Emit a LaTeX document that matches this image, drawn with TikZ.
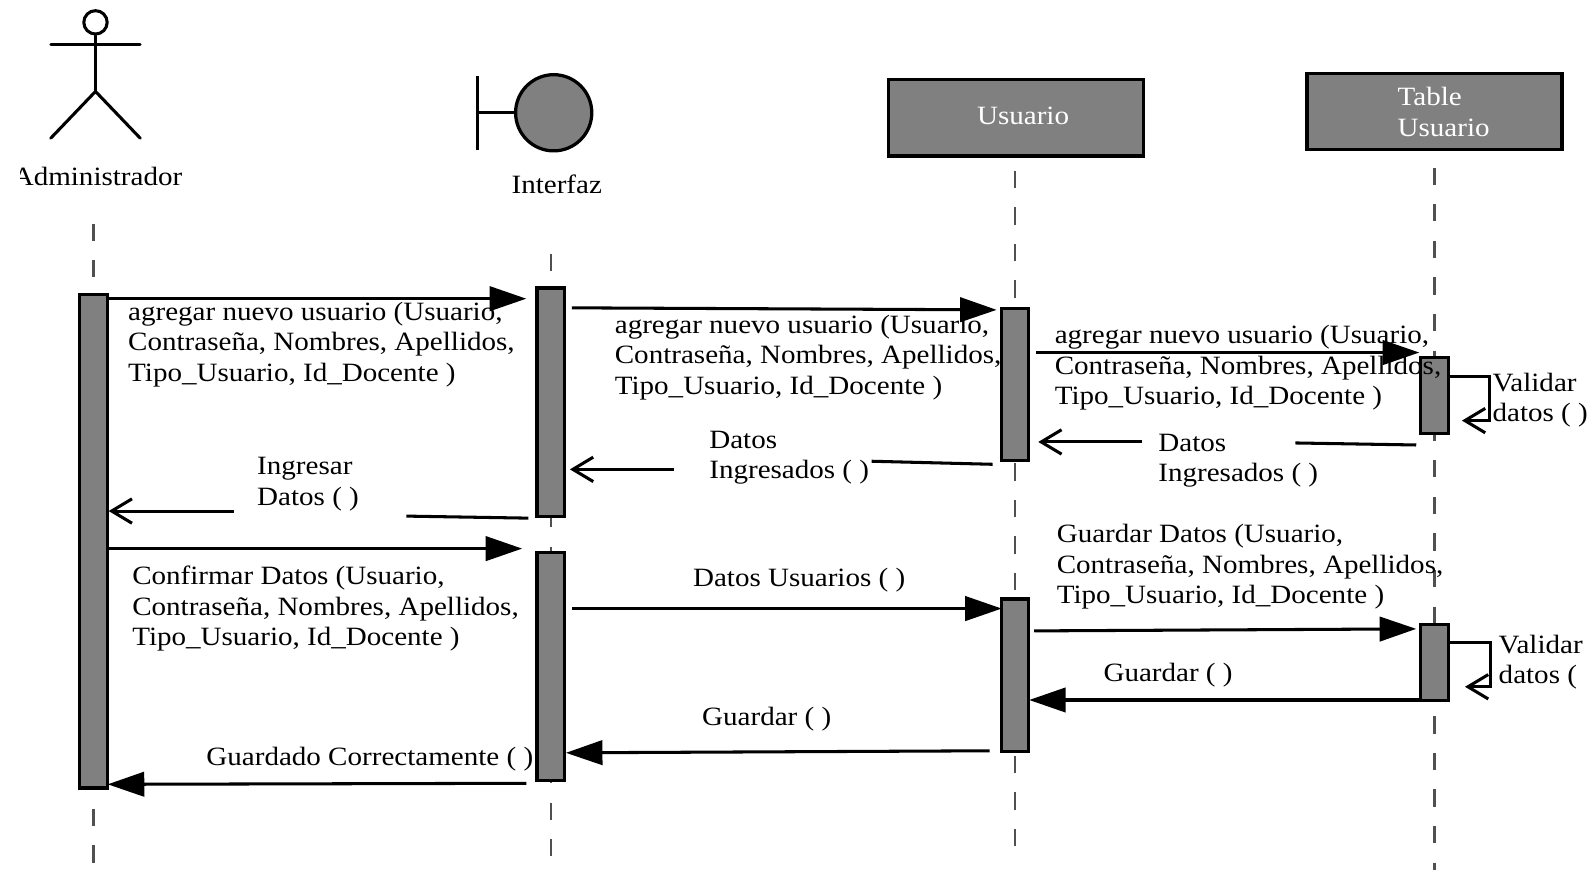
\documentclass[tikz,border=0pt]{standalone}
\usepackage{fontspec}
\setmainfont[FakeStretch=1.1]{Liberation Serif}
\usetikzlibrary{arrows.meta}
\definecolor{boxgray}{HTML}{808080}
\definecolor{lifegray}{HTML}{505050}
\tikzset{
  x=1pt,y=-1pt,
  bar/.style={draw=black,fill=boxgray,line width=3.2pt,minimum width=27pt,inner sep=0pt,anchor=north},
  head/.style={draw=black,fill=boxgray,line width=3.2pt,minimum width=251pt,minimum height=75pt,inner sep=0pt},
  headtxt/.style={inner sep=0pt,text=white,align=left,font=\fontsize{26}{30}\selectfont},
  lbl/.style={inner sep=0pt,anchor=north west,align=left,font=\fontsize{26}{30}\selectfont},
  life/.style={draw=lifegray,line width=2.2pt,dash pattern=on 17pt off 19pt},
  msg/.style={line width=3pt,-{Triangle[length=36pt,width=24pt]}},
  ret/.style={line width=3pt,-{Straight Barb[length=20pt,width=24pt,line width=3pt]}},
  plain/.style={line width=3pt},
  stick/.style={line width=3pt,line cap=round},
}
\begin{document}
\begin{tikzpicture}
\useasboundingbox (0,0) rectangle (1568,867);
% lifelines
\coordinate (l1a) at (92,220); \coordinate (l1b) at (92,867);
\coordinate (l2a) at (542,250); \coordinate (l2b) at (542,846);
\coordinate (l3a) at (999,168); \coordinate (l3b) at (999,846);
\coordinate (l4a) at (1412,165); \coordinate (l4b) at (1412,856);
\draw[life] (l1a) -- (l1b);
\draw[life] (l2a) -- (l2b);
\draw[life] (l3a) -- (l3b);
\draw[life] (l4a) -- (l4b);
% actor
\node[draw=black,line width=3pt,circle,minimum size=23pt,inner sep=0pt] (ahead) at (94,22) {};
\coordinate (ahip) at (94,90);
\coordinate (aarmL) at (50,44); \coordinate (aarmR) at (138,44);
\coordinate (alegL) at (50,136); \coordinate (alegR) at (138,136);
\draw[stick] (ahead.south) -- (ahip);
\draw[stick] (aarmL) -- (aarmR);
\draw[stick] (alegL) -- (ahip) -- (alegR);
\node[inner sep=0pt,font=\fontsize{26}{30}\selectfont] (actor) at (96,174) {Administrador};
\fill[white] (0,150) rectangle (20,200);
% boundary
\node[draw=black,fill=boxgray,line width=3.2pt,circle,minimum size=75pt,inner sep=0pt] (bcircle) at (545,111) {};
\coordinate (bbarT) at (470,75); \coordinate (bbarB) at (470,148); \coordinate (bmid) at (470,111);
\draw[line width=3pt] (bbarT) -- (bbarB);
\draw[line width=3pt] (bmid) -- (bcircle.west);
\node[inner sep=0pt,font=\fontsize{26}{30}\selectfont] (iface) at (548,181) {Interfaz};
% heads
\node[head] (usuario) at (1000,116) {};
\node[head] (tabla) at (1412,110) {};
\node[headtxt] (usuariot) at (1007,114) {Usuario};
\node[headtxt] (tablat) at (1421,110) {Table\\Usuario};
% bars
\node[bar,minimum height=486pt] (b1) at (92,288) {};
\node[bar,minimum height=225pt] (b2) at (542,282) {};
\node[bar,minimum height=225pt] (b2b) at (542,542) {};
\node[bar,minimum height=150pt] (b3) at (999,302) {};
\node[bar,minimum height=150pt] (b3b) at (999,588) {};
\node[bar,minimum height=75pt] (b4) at (1412,350) {};
\node[bar,minimum height=75pt] (b4b) at (1412,613) {};
% message endpoints
\coordinate (m1a) at (106,294); \coordinate (m1b) at (518,294);
\coordinate (m2a) at (563,303); \coordinate (m2b) at (981,305);
\coordinate (m3a) at (1020,347); \coordinate (m3b) at (1397,347);
\coordinate (m4a) at (1394,438); \coordinate (m4b) at (1275,436);
\coordinate (m4c) at (1124,435); \coordinate (m4d) at (1022,435);
\coordinate (m5a) at (977,457); \coordinate (m5b) at (858,454);
\coordinate (m5c) at (663,462); \coordinate (m5d) at (561,462);
\coordinate (m6a) at (520,510); \coordinate (m6b) at (400,508);
\coordinate (m6c) at (230,503); \coordinate (m6d) at (107,503);
\coordinate (m7a) at (106,540); \coordinate (m7b) at (514,540);
\coordinate (m8a) at (563,599); \coordinate (m8b) at (986,599);
\coordinate (m9a) at (1018,621); \coordinate (m9b) at (1394,619);
\coordinate (m10a) at (1398,689); \coordinate (m10b) at (1013,689);
\coordinate (m11a) at (974,739); \coordinate (m11b) at (557,741);
\coordinate (m12a) at (518,771); \coordinate (m12b) at (106,772);
\draw[msg] (m1a) -- (m1b);
\draw[msg] (m2a) -- (m2b);
\draw[msg] (m3a) -- (m3b);
\draw[plain] (m4a) -- (m4b);
\draw[ret] (m4c) -- (m4d);
\draw[plain] (m5a) -- (m5b);
\draw[ret] (m5c) -- (m5d);
\draw[plain] (m6a) -- (m6b);
\draw[ret] (m6c) -- (m6d);
\draw[msg] (m7a) -- (m7b);
\draw[msg] (m8a) -- (m8b);
\draw[msg] (m9a) -- (m9b);
\draw[msg] (m10a) -- (m10b);
\draw[msg] (m11a) -- (m11b);
\draw[msg] (m12a) -- (m12b);
% self messages
\coordinate (s1a) at (1425,371); \coordinate (s1c) at (1466,371); \coordinate (s1d) at (1466,414); \coordinate (s1e) at (1439,414);
\coordinate (s2a) at (1425,632); \coordinate (s2c) at (1467,632); \coordinate (s2d) at (1467,676); \coordinate (s2e) at (1442,676);
\draw[ret] (s1a) -- (s1c) -- (s1d) -- (s1e);
\draw[ret] (s2a) -- (s2c) -- (s2d) -- (s2e);
% labels
\node[lbl] (t1) at (126,297) {agregar nuevo usuario (Usuario,\\Contraseña, Nombres, Apellidos,\\Tipo\_Usuario, Id\_Docente )};
\node[lbl] (t2) at (605,310) {agregar nuevo usuario (Usuario,\\Contraseña, Nombres, Apellidos,\\Tipo\_Usuario, Id\_Docente )};
\node[lbl] (t3) at (1038,320) {agregar nuevo usuario (Usuario,\\Contraseña, Nombres, Apellidos,\\Tipo\_Usuario, Id\_Docente )};
\node[lbl] (t4) at (1140,427) {Datos\\Ingresados ( )};
\node[lbl] (t5) at (698,424) {Datos\\Ingresados ( )};
\node[lbl] (t6) at (253,450) {Ingresar\\Datos ( )};
\node[lbl] (t7) at (130,557) {Confirmar Datos (Usuario,\\Contraseña, Nombres, Apellidos,\\Tipo\_Usuario, Id\_Docente )};
\node[lbl] (t8) at (682,559) {Datos Usuarios ( )};
\node[lbl] (t9) at (1040,516) {Guardar Datos (Usuario,\\Contraseña, Nombres, Apellidos,\\Tipo\_Usuario, Id\_Docente )};
\node[lbl] (t10) at (1086,653) {Guardar ( )};
\node[lbl] (t11) at (691,696) {Guardar ( )};
\node[lbl] (t12) at (203,735) {Guardado Correctamente ( )};
\node[lbl] (t13) at (1469,367) {Validar\\datos ( )};
\node[lbl] (t14) at (1475,625) {Validar\\datos ( )};
\fill[white] (1560,600) rectangle (1568,700);
\end{tikzpicture}
\end{document}
